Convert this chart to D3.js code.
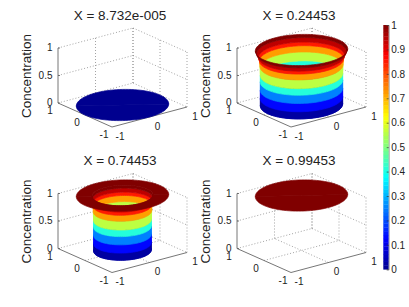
<!DOCTYPE html>
<html>
<head>
<meta charset="utf-8">
<script src="https://cdn.jsdelivr.net/npm/d3@7"></script>
<style>
  html, body { margin: 0; padding: 0; background: #fff; }
  svg { display: block; }
  text { font-family: "Liberation Sans", Arial, sans-serif; fill: #222; }
</style>
</head>
<body>
<svg class="svg-main" width="409" height="307"></svg>
<script>
// each surface is a profile of radius vs concentration
const titles = ["X = 8.732e-005", "X = 0.24453", "X = 0.74453", "X = 0.99453"];

const radius1 = [0, 1];
const height1 = [0, 0];
const color1 = [0];

const radius2 = [0, 0.89, 0.89, 0.89, 0.89, 0.89, 0.895, 0.91, 0.93, 0.97, 1];
const height2 = [0, 0, 0.13, 0.28, 0.43, 0.55, 0.71, 0.82, 0.88, 0.95, 1];
const color2 = [0.02, 0.02, 0.13, 0.25, 0.41, 0.56, 0.72, 0.85, 0.94, 1];

const radius3 = [0, 0.625, 0.625, 0.625, 0.625, 0.625, 0.63, 0.635, 0.64, 0.65, 0.66, 1];
const height3 = [0, 0, 0.13, 0.28, 0.43, 0.55, 0.71, 0.82, 0.88, 0.95, 1, 1];
const color3 = [0.02, 0.02, 0.13, 0.25, 0.41, 0.56, 0.72, 0.85, 0.94, 1, 1];

const radius4 = [0, 1];
const height4 = [1, 1];
const color4 = [1];

const xyTicks = [-1, 0, 1];
const zTicks = [0, 0.5, 1];
const colorbarTicks = [0, 0.1, 0.2, 0.3, 0.4, 0.5, 0.6, 0.7, 0.8, 0.9, 1];

const svg = d3.select(".svg-main");

const jet = d3.scaleLinear()
  .domain([0, 0.125, 0.375, 0.625, 0.875, 1])
  .range(["#00008f", "#0000ff", "#00ffff", "#ffff00", "#ff0000", "#800000"])
  .clamp(true);

// oblique view of the box, screen offset from the centre of the floor
const xToX = d3.scaleLinear().domain([-1, 1]).range([-37.5, 37.5]);
const xToY = d3.scaleLinear().domain([-1, 1]).range([10, -10]);
const yToX = d3.scaleLinear().domain([-1, 1]).range([27, -27]);
const yToY = d3.scaleLinear().domain([-1, 1]).range([12, -12]);
const zToY = d3.scaleLinear().domain([0, 1]).range([0, -55]);

const project = (x, y, z) => [xToX(x) + yToX(y), xToY(x) + yToY(y) + zToY(z)];

const line = d3.line();
const turnStart = Math.atan2(yToX(1), xToX(1));
const steps = d3.range(0, 49).map((i) => i / 48);

const arc = (r, z, from) => steps.map((s) => {
  const a = from + s * Math.PI;
  return project(r * Math.cos(a), r * Math.sin(a), z);
});

const drawPanel = (g, title, radius, height, color) => {
  const grid = g.append("g")
    .attr("fill", "none")
    .attr("stroke", "#8c8c8c")
    .attr("stroke-width", 0.8)
    .attr("stroke-dasharray", "1,2");
  const gridLine = (a, b) => grid.append("path").attr("d", line([project(...a), project(...b)]));

  zTicks.forEach((z) => {
    gridLine([-1, 1, z], [1, 1, z]);
    gridLine([1, 1, z], [1, -1, z]);
  });
  [0, 1].forEach((v) => {
    gridLine([v, 1, 0], [v, 1, 1]);
    gridLine([1, -v, 0], [1, -v, 1]);
  });
  gridLine([0, -1, 0], [0, 1, 0]);
  gridLine([-1, 0, 0], [1, 0, 0]);
  gridLine([1, 1, 0], [1, 1, 1]);

  const axes = g.append("g")
    .attr("fill", "none")
    .attr("stroke", "#666")
    .attr("stroke-width", 0.9);
  axes.append("path").attr("d", line([project(-1, 1, 1), project(-1, 1, 0), project(-1, -1, 0), project(1, -1, 0)]));
  zTicks.forEach((z) => {
    const p = project(-1, 1, z);
    axes.append("path").attr("d", line([p, [p[0] + 2, p[1]]]));
  });

  // back half first, then the front half, lowest band first
  [turnStart, turnStart + Math.PI].forEach((from) => {
    g.append("g").selectAll("path")
      .data(color)
      .enter().append("path")
        .attr("d", (c, i) => {
          const lower = arc(radius[i], height[i], from);
          const upper = arc(radius[i + 1], height[i + 1], from).reverse();
          return line(lower.concat(upper)) + "Z";
        })
        .attr("fill", (c) => jet(c))
        .attr("stroke", (c) => jet(c))
        .attr("stroke-width", 0.7);
  });

  const label = (pos, text, anchor) => g.append("text")
    .attr("x", pos[0])
    .attr("y", pos[1])
    .attr("text-anchor", anchor)
    .attr("dy", "0.35em")
    .attr("font-size", 10)
    .text(text);

  zTicks.forEach((z) => {
    const p = project(-1, 1, z);
    label([p[0] - 5.5, p[1] - 0.5], d3.format("~g")(z), "end");
  });
  xyTicks.forEach((v) => {
    const left = project(-1, v, 0);
    const right = project(v, -1, 0);
    label([left[0] - 8, left[1] + 7.5], v, "middle");
    label([right[0] + 8, right[1] + 9], v, "middle");
  });

  g.append("text")
    .attr("x", -2.5)
    .attr("y", -85.5)
    .attr("text-anchor", "middle")
    .attr("font-size", 13.5)
    .text(title);

  g.append("text")
    .attr("transform", "translate(-91.5,-29) rotate(-90)")
    .attr("text-anchor", "middle")
    .attr("font-size", 13.5)
    .text("Concentration");
};

const spotX = d3.scaleOrdinal().domain([0, 1]).range([122.5, 301.5]);
const spotY = d3.scaleOrdinal().domain([0, 1]).range([105, 250.5]);

const surfaces = [
  [radius1, height1, color1],
  [radius2, height2, color2],
  [radius3, height3, color3],
  [radius4, height4, color4]
];

titles.forEach((title, i) => {
  const g = svg.append("g")
    .attr("transform", `translate(${spotX(i % 2)},${spotY(Math.floor(i / 2))})`);
  drawPanel(g, title, ...surfaces[i]);
});

// colorbar
const barY = d3.scaleLinear().domain([0, 1]).range([269.3, 25]);
const barX = 383.3;
const barW = 5.4;
const levels = d3.range(0, 64);

svg.append("g").selectAll("rect")
  .data(levels)
  .enter().append("rect")
    .attr("x", barX)
    .attr("width", barW)
    .attr("y", (d) => barY((d + 1) / 64))
    .attr("height", (d) => barY(d / 64) - barY((d + 1) / 64) + 0.3)
    .attr("fill", (d) => jet((d + 0.5) / 64));

const barAxis = d3.axisRight(barY)
  .tickValues(colorbarTicks)
  .tickFormat(d3.format("~g"))
  .tickSize(-2)
  .tickPadding(2.5);

const barG = svg.append("g")
  .attr("transform", `translate(${barX + barW},0)`)
  .call(barAxis);
barG.select(".domain").attr("stroke", "#666").attr("stroke-width", 0.6);
barG.selectAll(".tick line").attr("stroke", "#333").attr("stroke-width", 0.7);
barG.selectAll("text").attr("font-size", 10).attr("font-family", null).style("fill", "#222");
</script>
</body>
</html>
